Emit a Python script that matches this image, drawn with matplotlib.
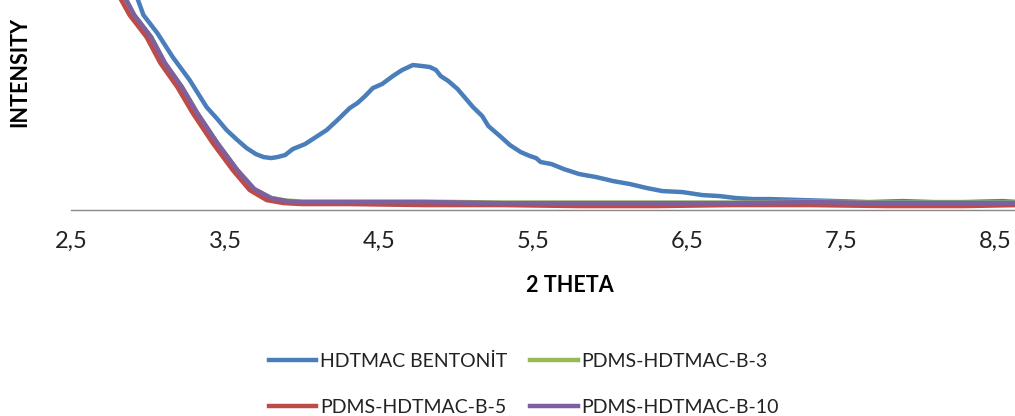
import matplotlib
matplotlib.use('Agg')
import matplotlib.pyplot as plt
from matplotlib.ticker import FuncFormatter

plt.rcParams['font.family'] = ['Lato', 'DejaVu Sans']

# 2 theta (deg) and intensity (arbitrary units, axis cut at the top)
x_hdtmac = [2.85, 2.93, 2.97, 3.06, 3.16, 3.27, 3.38, 3.45, 3.51, 3.58, 3.64, 3.70, 3.75, 3.80,
            3.84, 3.89, 3.94, 4.02, 4.10, 4.16, 4.23, 4.31, 4.36, 4.41, 4.46, 4.52, 4.59, 4.65,
            4.72, 4.78, 4.83, 4.87, 4.90, 4.95, 5.01, 5.06, 5.11, 5.17, 5.21, 5.24, 5.30, 5.35,
            5.42, 5.48, 5.52, 5.55, 5.62, 5.70, 5.80, 5.91, 6.02, 6.13, 6.24, 6.34, 6.47, 6.60,
            6.71, 6.82, 6.93, 7.04, 7.25, 7.47, 7.68, 7.90, 8.10, 8.30, 8.55, 8.65]
y_hdtmac = [240, 212, 195, 177, 153, 130, 103, 91, 80, 70, 62, 56, 53, 52,
            53, 55, 61, 66, 74, 80, 90, 102, 107, 114, 122, 126, 134, 140,
            145, 144, 143, 140, 134, 129, 121, 112, 103, 94, 84, 80, 72, 65,
            58, 54, 52, 48, 46, 41, 36, 33, 29, 26, 22, 19, 18, 15,
            14, 12, 11, 11, 10, 9, 8, 9, 8, 8, 9, 8]

x_b5 = [2.70, 2.88, 2.99, 3.08, 3.19, 3.29, 3.42, 3.55, 3.66, 3.77, 3.88, 4.00, 4.30, 4.80,
        5.30, 5.80, 6.30, 6.80, 7.30, 7.80, 8.30, 8.65]
y_b5 = [245, 195, 173, 147, 123, 97, 67, 40, 20, 10, 7, 6, 6, 5,
        5, 4, 4, 5, 5, 4, 4, 5]

x_b10 = [2.74, 2.91, 3.02, 3.11, 3.22, 3.32, 3.45, 3.58, 3.69, 3.80, 3.90, 4.00, 4.30, 4.80,
         5.30, 5.80, 6.30, 6.80, 7.30, 7.80, 8.30, 8.65]
y_b10 = [245, 195, 173, 147, 123, 97, 67, 40, 21, 12, 9, 8, 8, 8,
         7, 7, 7, 7, 8, 7, 7, 7]

x_b3 = x_b10
y_b3 = [245, 195, 173, 147, 123, 97, 67, 40, 21, 12, 9.5, 8.5, 8.5, 8.5,
        7.5, 7.5, 7.5, 7.5, 8.5, 7.5, 7.5, 7.5]

xticks = [2.5, 3.5, 4.5, 5.5, 6.5, 7.5, 8.5]

fig = plt.figure(figsize=(10.15, 4.16), dpi=100)
ax = fig.add_axes([0.07, 0.495, 0.93, 0.505])

lw = 3.2
l1, = ax.plot(x_hdtmac, y_hdtmac, color='#4A7EBB', lw=lw, label='HDTMAC BENTONİT')
l2, = ax.plot(x_b3, y_b3, color='#98B954', lw=lw, label='PDMS-HDTMAC-B-3')
l3, = ax.plot(x_b5, y_b5, color='#BE4B48', lw=lw, label='PDMS-HDTMAC-B-5')
l4, = ax.plot(x_b10, y_b10, color='#7D60A0', lw=lw, label='PDMS-HDTMAC-B-10')

ax.set_xlim(2.5, 8.63)
ax.set_ylim(0, 210)
ax.set_xticks(xticks)
ax.xaxis.set_major_formatter(FuncFormatter(lambda v, p: ('%.1f' % v).replace('.', ',')))
ax.tick_params(axis='x', length=0, pad=15, labelsize=17, colors='#222222')
ax.set_yticks([])
for s in ['top', 'right', 'left']:
    ax.spines[s].set_visible(False)
ax.spines['bottom'].set_color('#888888')
ax.spines['bottom'].set_linewidth(1.0)

fig.text(570 / 1015, 1 - 285 / 416, '2 THETA', ha='center', va='center',
         fontsize=15.5, fontweight='bold')
fig.text(20 / 1015, 1 - 72 / 416, 'INTENSITY', ha='center', va='center',
         rotation=90, fontsize=15.5, fontweight='bold')

fig.legend([l1, l3, l2, l4], [l1.get_label(), l3.get_label(), l2.get_label(), l4.get_label()],
           ncol=2, loc='upper left', bbox_to_anchor=(259 / 1015, 1 - 343 / 416),
           frameon=False, fontsize=14, handlelength=2.45, handletextpad=0.2,
           columnspacing=1.15, labelspacing=1.5, borderpad=0, labelcolor='#222222')

fig.savefig('out.png', dpi=100)
